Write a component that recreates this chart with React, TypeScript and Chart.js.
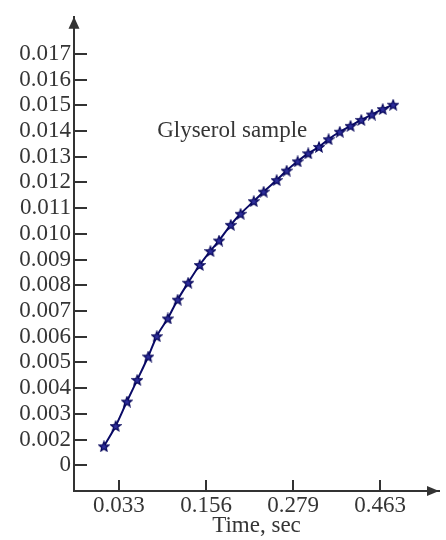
import { useEffect, useRef } from 'react';
import { Chart, registerables } from 'chart.js';

Chart.register(...registerables);

// Data
const timeSec = [
  0.0118, 0.0284, 0.0443, 0.0589, 0.0744, 0.0865, 0.102, 0.116, 0.1308, 0.1471,
  0.1622, 0.1744, 0.191, 0.2048, 0.2235, 0.2374, 0.2558, 0.2699, 0.2854, 0.3003,
  0.3155, 0.3291, 0.3449, 0.3601, 0.3753, 0.3902, 0.4055, 0.4203,
];
const glyserolValues = [
  0.00174, 0.00253, 0.00348, 0.00432, 0.00523, 0.00602, 0.00671, 0.00744, 0.0081, 0.00879,
  0.00933, 0.00974, 0.01035, 0.01078, 0.01127, 0.01164, 0.01209, 0.01246, 0.01282, 0.01313,
  0.01338, 0.01368, 0.01397, 0.0142, 0.01443, 0.01464, 0.01485, 0.01502,
];
const xTickValues = [0.033, 0.156, 0.279, 0.402];
const xTickLabels = ['0.033', '0.156', '0.279', '0.463'];
const yTickValues = [
  0.001, 0.002, 0.003, 0.004, 0.005, 0.006, 0.007, 0.008, 0.009,
  0.010, 0.011, 0.012, 0.013, 0.014, 0.015, 0.016, 0.017,
];
const yTickLabels = [
  '0', '0.002', '0.003', '0.004', '0.005', '0.006', '0.007', '0.008', '0.009',
  '0.010', '0.011', '0.012', '0.013', '0.014', '0.015', '0.016', '0.017',
];
const seriesLabel = 'Glyserol sample';
const xAxisTitle = 'Time, sec';
const annotationAt = { x: 0.087, y: 0.01378 };

const FONT = '"Liberation Serif", "Times New Roman", serif';
const TEXT = '#353535';
const AXIS = '#333333';
const NAVY = '#0a0a66';

function makeStar(): HTMLCanvasElement {
  const c = document.createElement('canvas');
  c.width = 12;
  c.height = 12;
  const g = c.getContext('2d')!;
  g.beginPath();
  for (let i = 0; i < 10; i++) {
    const r = i % 2 === 0 ? 5.2 : 2.3;
    const a = -Math.PI / 2 + (i * Math.PI) / 5;
    g.lineTo(6 + r * Math.cos(a), 6.5 + r * Math.sin(a));
  }
  g.closePath();
  g.fillStyle = '#2e2e9a';
  g.fill();
  g.strokeStyle = '#05055a';
  g.lineWidth = 1.2;
  g.stroke();
  return c;
}

const decorPlugin = {
  id: 'decor',
  afterDraw(chart: any) {
    const { ctx, chartArea, scales } = chart;
    const xs = scales.x;
    const ys = scales.y;
    ctx.save();
    ctx.strokeStyle = AXIS;
    ctx.fillStyle = AXIS;
    ctx.lineWidth = 2;
    // inner ticks on y
    ys.ticks.forEach((_t: any, i: number) => {
      const py = Math.round(ys.getPixelForTick(i));
      ctx.beginPath();
      ctx.moveTo(chartArea.left, py);
      ctx.lineTo(chartArea.left + 13, py);
      ctx.stroke();
    });
    // inner ticks on x
    xs.ticks.forEach((_t: any, i: number) => {
      const px = Math.round(xs.getPixelForTick(i));
      ctx.beginPath();
      ctx.moveTo(px, chartArea.bottom);
      ctx.lineTo(px, chartArea.bottom - 11);
      ctx.stroke();
    });
    // arrow on y axis
    const ax = chartArea.left;
    ctx.beginPath();
    ctx.moveTo(ax, chartArea.top);
    ctx.lineTo(ax - 5.5, chartArea.top + 12);
    ctx.lineTo(ax + 5.5, chartArea.top + 12);
    ctx.closePath();
    ctx.fill();
    // arrow on x axis
    const ay = chartArea.bottom;
    ctx.beginPath();
    ctx.moveTo(chartArea.right, ay);
    ctx.lineTo(chartArea.right - 12, ay - 5);
    ctx.lineTo(chartArea.right - 12, ay + 5);
    ctx.closePath();
    ctx.fill();
    // annotation
    ctx.fillStyle = TEXT;
    ctx.font = `23px ${FONT}`;
    ctx.textAlign = 'left';
    ctx.textBaseline = 'alphabetic';
    ctx.fillText(seriesLabel, xs.getPixelForValue(annotationAt.x), ys.getPixelForValue(annotationAt.y));
    ctx.restore();
  },
};

export default function App() {
  const ref = useRef<HTMLCanvasElement | null>(null);
  useEffect(() => {
    if (!ref.current) return;
    const star = makeStar();
    const chart = new Chart(ref.current, {
      type: 'line',
      data: {
        datasets: [
          {
            label: seriesLabel,
            data: timeSec.map((t, i) => ({ x: t, y: glyserolValues[i] })),
            borderColor: NAVY,
            borderWidth: 2,
            pointStyle: star as any,
            pointRadius: 5,
            cubicInterpolationMode: 'monotone',
            fill: false,
          },
        ],
      },
      options: {
        animation: false,
        responsive: false,
        maintainAspectRatio: false,
        layout: { padding: { top: 12, right: 0, bottom: 0, left: 0 } },
        plugins: { legend: { display: false }, tooltip: { enabled: false } },
        scales: {
          x: {
            type: 'linear',
            min: -0.0304,
            max: 0.485,
            grid: { display: false, drawTicks: false },
            border: { display: true, color: AXIS, width: 2 },
            afterBuildTicks: (scale: any) => {
              scale.ticks = xTickValues.map((v) => ({ value: v }));
            },
            afterFit: (scale: any) => {
              scale.height = 49;
            },
            ticks: {
              autoSkip: false,
              maxRotation: 0,
              padding: 1,
              color: TEXT,
              font: { family: FONT, size: 23 },
              callback: (_v: any, i: number) => xTickLabels[i],
            },
            title: {
              display: true,
              text: xAxisTitle,
              color: TEXT,
              font: { family: FONT, size: 23 },
              padding: { top: 0, bottom: 0 },
            },
          },
          y: {
            type: 'linear',
            min: 0,
            max: 0.01844,
            grid: { display: false, drawTicks: false },
            border: { display: true, color: AXIS, width: 2 },
            afterBuildTicks: (scale: any) => {
              scale.ticks = yTickValues.map((v) => ({ value: v }));
            },
            afterFit: (scale: any) => {
              scale.width = 74;
            },
            ticks: {
              autoSkip: false,
              padding: 3,
              color: TEXT,
              font: { family: FONT, size: 23 },
              callback: (_v: any, i: number) => yTickLabels[i],
            },
          },
        },
      },
      plugins: [decorPlugin],
    });
    return () => chart.destroy();
  }, []);
  return (
    <div style={{ position: 'absolute', left: 0, top: 0, width: 446, height: 540, background: '#fff' }}>
      <canvas ref={ref} width={446} height={540} style={{ width: 446, height: 540 }} />
    </div>
  );
}
